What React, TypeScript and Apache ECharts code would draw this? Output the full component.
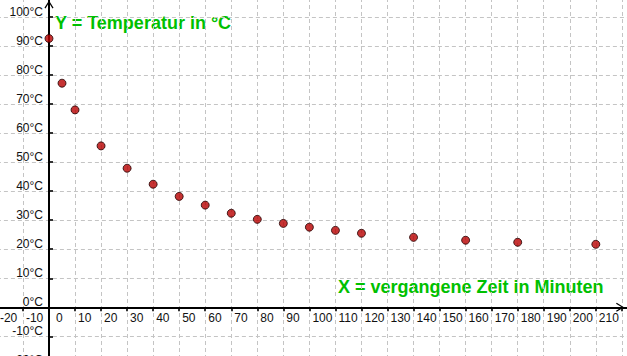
import React, { useEffect, useRef } from "react";
import * as echarts from "echarts";

// Data
const times = [0, 5, 10, 20, 30, 40, 50, 60, 70, 80, 90, 100, 110, 120, 140, 160, 180, 210];
const temps = [92.6, 77.2, 68.0, 55.6, 47.9, 42.4, 38.2, 35.2, 32.4, 30.3, 28.9, 27.6, 26.5, 25.5, 24.1, 23.1, 22.4, 21.7];

const yTitle = "Y = Temperatur in °C";
const xTitle = "X = vergangene Zeit in Minuten";
const unit = "°C";

const X_MIN = -20;
const X_MAX = 222.74;
const Y_MIN = -20;
const Y_MAX = 106.55;
const STEP = 10;

const GREEN = "#00c000";
const FONT = "'Liberation Sans', Arial, sans-serif";
const ARROW = "path://M5,0 L10,8 L8.8,8.8 L5,2.4 L1.2,8.8 L0,8 Z";

export default function App() {
  const ref = useRef<HTMLDivElement>(null);

  useEffect(() => {
    if (!ref.current) return;
    const chart = echarts.init(ref.current, undefined, { renderer: "svg" });
    const points = times.map((t, i) => [t, temps[i]]);
    chart.setOption({
      animation: false,
      backgroundColor: "#ffffff",
      grid: { left: -3.1, right: -2, top: -2, bottom: -9.36, containLabel: false, outerBoundsMode: "none" },
      xAxis: {
        type: "value",
        min: X_MIN,
        max: X_MAX,
        interval: STEP,
        position: "bottom",
        offset: -58.06,
        axisLine: {
          show: true,
          onZero: false,
          symbol: ["none", ARROW],
          symbolSize: [10, 8],
          symbolOffset: [0, -9],
          lineStyle: { color: "#000", width: 2 },
        },
        axisTick: { show: true, inside: false, length: 4, lineStyle: { color: "#000", width: 1.6 } },
        axisLabel: {
          show: true,
          showMaxLabel: false,
          align: "left",
          verticalAlign: "top",
          margin: 5,
          padding: [0, 0, 0, 3],
          color: "#111",
          fontSize: 12,
          fontFamily: FONT,
          formatter: (v: number) => (v > 215 ? "" : v === 0 ? "{z|0}" : String(v)),
          rich: { z: { padding: [0, 0, 0, 4], fontSize: 12, fontFamily: FONT, color: "#111" } },
        },
        splitLine: { show: true, lineStyle: { color: "#c4c4c4", width: 1, type: [4, 3] } },
      },
      yAxis: {
        type: "value",
        min: Y_MIN,
        max: Y_MAX,
        interval: STEP,
        position: "left",
        offset: -52.1,
        axisLine: {
          show: true,
          onZero: false,
          symbol: ["none", ARROW],
          symbolSize: [10, 8],
          symbolOffset: [0, -6.5],
          lineStyle: { color: "#000", width: 2 },
        },
        axisTick: { show: true, inside: true, length: 4, lineStyle: { color: "#000", width: 1.6 } },
        axisLabel: {
          show: true,
          showMaxLabel: false,
          align: "right",
          verticalAlign: "bottom",
          lineHeight: 10,
          margin: 6,
          color: "#111",
          fontSize: 12,
          fontFamily: FONT,
          formatter: (v: number) => (v > 101 ? "" : `${v}${unit}`),
        },
        splitLine: { show: true, lineStyle: { color: "#c4c4c4", width: 1, type: [4, 3] } },
      },
      series: [
        {
          type: "scatter",
          data: points,
          symbol: "circle",
          symbolSize: 8,
          itemStyle: { color: "#b80000", borderColor: "#200000", borderWidth: 1 },
          z: 5,
        },
      ],
      graphic: [
        {
          type: "text",
          x: 55,
          y: 23,
          style: { text: yTitle, fill: GREEN, font: `bold 18px ${FONT}`, align: "left", verticalAlign: "middle" },
        },
        {
          type: "text",
          x: 338,
          y: 287,
          style: { text: xTitle, fill: GREEN, font: `bold 18px ${FONT}`, align: "left", verticalAlign: "middle" },
        },
      ],
    });
    return () => chart.dispose();
  }, []);

  return (
    <div
      ref={ref}
      style={{ position: "absolute", left: 0, top: 0, width: 627, height: 356, background: "#fff" }}
    />
  );
}
